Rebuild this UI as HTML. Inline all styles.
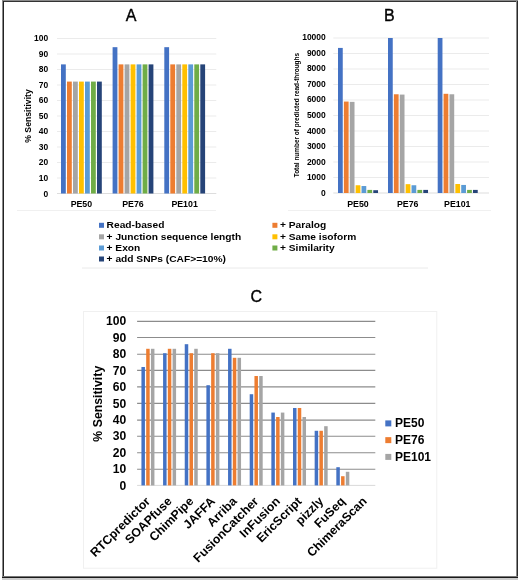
<!DOCTYPE html>
<html><head><meta charset="utf-8"><style>
html,body{margin:0;padding:0;background:#fff;width:520px;height:582px;overflow:hidden}
svg{display:block;will-change:transform}
text{font-family:"Liberation Sans",sans-serif}
</style></head><body>
<svg width="520" height="582" viewBox="0 0 520 582">
<rect width="520" height="582" fill="#fff"/>
<line x1="57" y1="193.5" x2="216.3" y2="193.5" stroke="#D9D9D9" stroke-width="0.9"/>
<text x="48.2" y="196.6" font-size="8.45" font-weight="bold" text-anchor="end" fill="#000">0</text>
<line x1="57" y1="178" x2="216.3" y2="178" stroke="#E9E9E9" stroke-width="0.9"/>
<text x="48.2" y="181.04" font-size="8.45" font-weight="bold" text-anchor="end" fill="#000">10</text>
<line x1="57" y1="162.5" x2="216.3" y2="162.5" stroke="#E9E9E9" stroke-width="0.9"/>
<text x="48.2" y="165.48" font-size="8.45" font-weight="bold" text-anchor="end" fill="#000">20</text>
<line x1="57" y1="147" x2="216.3" y2="147" stroke="#E9E9E9" stroke-width="0.9"/>
<text x="48.2" y="149.92" font-size="8.45" font-weight="bold" text-anchor="end" fill="#000">30</text>
<line x1="57" y1="131.5" x2="216.3" y2="131.5" stroke="#E9E9E9" stroke-width="0.9"/>
<text x="48.2" y="134.36" font-size="8.45" font-weight="bold" text-anchor="end" fill="#000">40</text>
<line x1="57" y1="116" x2="216.3" y2="116" stroke="#E9E9E9" stroke-width="0.9"/>
<text x="48.2" y="118.8" font-size="8.45" font-weight="bold" text-anchor="end" fill="#000">50</text>
<line x1="57" y1="100.5" x2="216.3" y2="100.5" stroke="#E9E9E9" stroke-width="0.9"/>
<text x="48.2" y="103.24" font-size="8.45" font-weight="bold" text-anchor="end" fill="#000">60</text>
<line x1="57" y1="85" x2="216.3" y2="85" stroke="#E9E9E9" stroke-width="0.9"/>
<text x="48.2" y="87.68" font-size="8.45" font-weight="bold" text-anchor="end" fill="#000">70</text>
<line x1="57" y1="69.5" x2="216.3" y2="69.5" stroke="#E9E9E9" stroke-width="0.9"/>
<text x="48.2" y="72.12" font-size="8.45" font-weight="bold" text-anchor="end" fill="#000">80</text>
<line x1="57" y1="54" x2="216.3" y2="54" stroke="#E9E9E9" stroke-width="0.9"/>
<text x="48.2" y="56.56" font-size="8.45" font-weight="bold" text-anchor="end" fill="#000">90</text>
<line x1="57" y1="38.5" x2="216.3" y2="38.5" stroke="#E9E9E9" stroke-width="0.9"/>
<text x="48.2" y="41" font-size="8.45" font-weight="bold" text-anchor="end" fill="#000">100</text>
<rect x="61" y="64.38" width="4.8" height="129.12" fill="#4472C4"/>
<rect x="67" y="81.59" width="4.8" height="111.91" fill="#ED7D31"/>
<rect x="73" y="81.59" width="4.8" height="111.91" fill="#A5A5A5"/>
<rect x="79" y="81.59" width="4.8" height="111.91" fill="#FFC000"/>
<rect x="85" y="81.59" width="4.8" height="111.91" fill="#5B9BD5"/>
<rect x="91" y="81.59" width="4.8" height="111.91" fill="#70AD47"/>
<rect x="97" y="81.59" width="4.8" height="111.91" fill="#264478"/>
<rect x="112.6" y="47.18" width="4.8" height="146.32" fill="#4472C4"/>
<rect x="118.6" y="64.38" width="4.8" height="129.12" fill="#ED7D31"/>
<rect x="124.6" y="64.38" width="4.8" height="129.12" fill="#A5A5A5"/>
<rect x="130.6" y="64.38" width="4.8" height="129.12" fill="#FFC000"/>
<rect x="136.6" y="64.38" width="4.8" height="129.12" fill="#5B9BD5"/>
<rect x="142.6" y="64.38" width="4.8" height="129.12" fill="#70AD47"/>
<rect x="148.6" y="64.38" width="4.8" height="129.12" fill="#264478"/>
<rect x="164.3" y="47.18" width="4.8" height="146.32" fill="#4472C4"/>
<rect x="170.3" y="64.38" width="4.8" height="129.12" fill="#ED7D31"/>
<rect x="176.3" y="64.38" width="4.8" height="129.12" fill="#A5A5A5"/>
<rect x="182.3" y="64.38" width="4.8" height="129.12" fill="#FFC000"/>
<rect x="188.3" y="64.38" width="4.8" height="129.12" fill="#5B9BD5"/>
<rect x="194.3" y="64.38" width="4.8" height="129.12" fill="#70AD47"/>
<rect x="200.3" y="64.38" width="4.8" height="129.12" fill="#264478"/>
<text x="81.4" y="207.2" font-size="8.8" font-weight="bold" text-anchor="middle" fill="#000">PE50</text>
<text x="133" y="207.2" font-size="8.8" font-weight="bold" text-anchor="middle" fill="#000">PE76</text>
<text x="184.6" y="207.2" font-size="8.8" font-weight="bold" text-anchor="middle" fill="#000">PE101</text>
<text x="31.1" y="116" font-size="8.7" font-weight="bold" text-anchor="middle" fill="#000" transform="rotate(-90 31.1 116)">% Sensitivity</text>
<text x="131" y="20.7" font-size="16" font-weight="normal" text-anchor="middle" fill="#000" stroke="#000" stroke-width="0.35">A</text>
<line x1="333.3" y1="193" x2="489" y2="193" stroke="#D9D9D9" stroke-width="0.9"/>
<text x="325.8" y="196" font-size="8.5" font-weight="bold" text-anchor="end" fill="#000">0</text>
<line x1="333.3" y1="177.5" x2="489" y2="177.5" stroke="#E9E9E9" stroke-width="0.9"/>
<text x="325.8" y="180.41" font-size="8.5" font-weight="bold" text-anchor="end" fill="#000">1000</text>
<line x1="333.3" y1="162" x2="489" y2="162" stroke="#E9E9E9" stroke-width="0.9"/>
<text x="325.8" y="164.82" font-size="8.5" font-weight="bold" text-anchor="end" fill="#000">2000</text>
<line x1="333.3" y1="146.5" x2="489" y2="146.5" stroke="#E9E9E9" stroke-width="0.9"/>
<text x="325.8" y="149.23" font-size="8.5" font-weight="bold" text-anchor="end" fill="#000">3000</text>
<line x1="333.3" y1="131" x2="489" y2="131" stroke="#E9E9E9" stroke-width="0.9"/>
<text x="325.8" y="133.64" font-size="8.5" font-weight="bold" text-anchor="end" fill="#000">4000</text>
<line x1="333.3" y1="115.5" x2="489" y2="115.5" stroke="#E9E9E9" stroke-width="0.9"/>
<text x="325.8" y="118.05" font-size="8.5" font-weight="bold" text-anchor="end" fill="#000">5000</text>
<line x1="333.3" y1="100" x2="489" y2="100" stroke="#E9E9E9" stroke-width="0.9"/>
<text x="325.8" y="102.46" font-size="8.5" font-weight="bold" text-anchor="end" fill="#000">6000</text>
<line x1="333.3" y1="84.5" x2="489" y2="84.5" stroke="#E9E9E9" stroke-width="0.9"/>
<text x="325.8" y="86.87" font-size="8.5" font-weight="bold" text-anchor="end" fill="#000">7000</text>
<line x1="333.3" y1="69" x2="489" y2="69" stroke="#E9E9E9" stroke-width="0.9"/>
<text x="325.8" y="71.28" font-size="8.5" font-weight="bold" text-anchor="end" fill="#000">8000</text>
<line x1="333.3" y1="53.5" x2="489" y2="53.5" stroke="#E9E9E9" stroke-width="0.9"/>
<text x="325.8" y="55.69" font-size="8.5" font-weight="bold" text-anchor="end" fill="#000">9000</text>
<line x1="333.3" y1="38" x2="489" y2="38" stroke="#E9E9E9" stroke-width="0.9"/>
<text x="325.8" y="40.1" font-size="8.5" font-weight="bold" text-anchor="end" fill="#000">10000</text>
<rect x="338" y="47.92" width="4.75" height="145.08" fill="#4472C4"/>
<rect x="343.88" y="101.55" width="4.75" height="91.45" fill="#ED7D31"/>
<rect x="349.76" y="101.86" width="4.75" height="91.14" fill="#A5A5A5"/>
<rect x="355.64" y="185.25" width="4.75" height="7.75" fill="#FFC000"/>
<rect x="361.52" y="186.03" width="4.75" height="6.97" fill="#5B9BD5"/>
<rect x="367.4" y="189.9" width="4.75" height="3.1" fill="#70AD47"/>
<rect x="373.28" y="190.21" width="4.75" height="2.79" fill="#264478"/>
<rect x="388" y="38" width="4.75" height="155" fill="#4472C4"/>
<rect x="393.88" y="94.27" width="4.75" height="98.73" fill="#ED7D31"/>
<rect x="399.76" y="94.58" width="4.75" height="98.42" fill="#A5A5A5"/>
<rect x="405.64" y="184.16" width="4.75" height="8.83" fill="#FFC000"/>
<rect x="411.52" y="185.25" width="4.75" height="7.75" fill="#5B9BD5"/>
<rect x="417.4" y="189.9" width="4.75" height="3.1" fill="#70AD47"/>
<rect x="423.28" y="189.9" width="4.75" height="3.1" fill="#264478"/>
<rect x="437.7" y="38" width="4.75" height="155" fill="#4472C4"/>
<rect x="443.58" y="93.8" width="4.75" height="99.2" fill="#ED7D31"/>
<rect x="449.46" y="94.27" width="4.75" height="98.73" fill="#A5A5A5"/>
<rect x="455.34" y="184.01" width="4.75" height="8.99" fill="#FFC000"/>
<rect x="461.22" y="184.94" width="4.75" height="8.06" fill="#5B9BD5"/>
<rect x="467.1" y="189.9" width="4.75" height="3.1" fill="#70AD47"/>
<rect x="472.98" y="189.9" width="4.75" height="3.1" fill="#264478"/>
<text x="358" y="206.8" font-size="8.8" font-weight="bold" text-anchor="middle" fill="#000">PE50</text>
<text x="407.7" y="206.8" font-size="8.8" font-weight="bold" text-anchor="middle" fill="#000">PE76</text>
<text x="457.3" y="206.8" font-size="8.8" font-weight="bold" text-anchor="middle" fill="#000">PE101</text>
<text x="299.3" y="115.1" font-size="6.45" font-weight="bold" text-anchor="middle" fill="#000" transform="rotate(-90 299.3 115.1)">Total number of predicted read-throughs</text>
<text x="389.4" y="20.7" font-size="16" font-weight="normal" text-anchor="middle" fill="#000" stroke="#000" stroke-width="0.35">B</text>
<line x1="17" y1="210.5" x2="216" y2="210.5" stroke="#F0F0F0" stroke-width="1"/>
<line x1="288" y1="210.5" x2="491" y2="210.5" stroke="#F0F0F0" stroke-width="1"/>
<line x1="82" y1="268" x2="428" y2="268" stroke="#EAEAEA" stroke-width="1"/>
<rect x="99" y="222.8" width="5" height="5" fill="#4472C4"/>
<text x="106.6" y="228.2" font-size="9.8" font-weight="bold" text-anchor="start" fill="#000" textLength="57.8" lengthAdjust="spacingAndGlyphs">Read-based</text>
<rect x="272.4" y="222.8" width="5" height="5" fill="#ED7D31"/>
<text x="280" y="228.2" font-size="9.8" font-weight="bold" text-anchor="start" fill="#000" textLength="46.2" lengthAdjust="spacingAndGlyphs">+ Paralog</text>
<rect x="99" y="234.3" width="5" height="5" fill="#A5A5A5"/>
<text x="106.6" y="239.7" font-size="9.8" font-weight="bold" text-anchor="start" fill="#000" textLength="134.6" lengthAdjust="spacingAndGlyphs">+ Junction sequence length</text>
<rect x="272.4" y="234.3" width="5" height="5" fill="#FFC000"/>
<text x="280" y="239.7" font-size="9.8" font-weight="bold" text-anchor="start" fill="#000" textLength="76.2" lengthAdjust="spacingAndGlyphs">+ Same isoform</text>
<rect x="99" y="245.5" width="5" height="5" fill="#5B9BD5"/>
<text x="106.6" y="250.9" font-size="9.8" font-weight="bold" text-anchor="start" fill="#000" textLength="33.7" lengthAdjust="spacingAndGlyphs">+ Exon</text>
<rect x="272.4" y="245.5" width="5" height="5" fill="#70AD47"/>
<text x="280" y="250.9" font-size="9.8" font-weight="bold" text-anchor="start" fill="#000" textLength="54.7" lengthAdjust="spacingAndGlyphs">+ Similarity</text>
<rect x="99" y="256.5" width="5" height="5" fill="#264478"/>
<text x="106.6" y="261.9" font-size="9.8" font-weight="bold" text-anchor="start" fill="#000" textLength="119.3" lengthAdjust="spacingAndGlyphs">+ add SNPs (CAF&gt;=10%)</text>
<rect x="83.5" y="311.5" width="353.3" height="256.7" fill="none" stroke="#F0F0F0" stroke-width="1"/>
<line x1="137.1" y1="485.4" x2="375.3" y2="485.4" stroke="#D9D9D9" stroke-width="1"/>
<text x="126.2" y="489.7" font-size="12.1" font-weight="bold" text-anchor="end" fill="#000">0</text>
<line x1="137.1" y1="469.2" x2="375.3" y2="469.2" stroke="#8C8C8C" stroke-width="1.1"/>
<text x="126.2" y="473.26" font-size="12.1" font-weight="bold" text-anchor="end" fill="#000">10</text>
<line x1="137.1" y1="452.8" x2="375.3" y2="452.8" stroke="#8C8C8C" stroke-width="1.1"/>
<text x="126.2" y="456.82" font-size="12.1" font-weight="bold" text-anchor="end" fill="#000">20</text>
<line x1="137.1" y1="436.2" x2="375.3" y2="436.2" stroke="#8C8C8C" stroke-width="1.1"/>
<text x="126.2" y="440.38" font-size="12.1" font-weight="bold" text-anchor="end" fill="#000">30</text>
<line x1="137.1" y1="420.1" x2="375.3" y2="420.1" stroke="#8C8C8C" stroke-width="1.1"/>
<text x="126.2" y="423.94" font-size="12.1" font-weight="bold" text-anchor="end" fill="#000">40</text>
<line x1="137.1" y1="403.4" x2="375.3" y2="403.4" stroke="#8C8C8C" stroke-width="1.1"/>
<text x="126.2" y="407.5" font-size="12.1" font-weight="bold" text-anchor="end" fill="#000">50</text>
<line x1="137.1" y1="386.9" x2="375.3" y2="386.9" stroke="#8C8C8C" stroke-width="1.1"/>
<text x="126.2" y="391.06" font-size="12.1" font-weight="bold" text-anchor="end" fill="#000">60</text>
<line x1="137.1" y1="370.4" x2="375.3" y2="370.4" stroke="#8C8C8C" stroke-width="1.1"/>
<text x="126.2" y="374.62" font-size="12.1" font-weight="bold" text-anchor="end" fill="#000">70</text>
<line x1="137.1" y1="354.2" x2="375.3" y2="354.2" stroke="#8C8C8C" stroke-width="1.1"/>
<text x="126.2" y="358.18" font-size="12.1" font-weight="bold" text-anchor="end" fill="#000">80</text>
<line x1="137.1" y1="337.5" x2="375.3" y2="337.5" stroke="#8C8C8C" stroke-width="1.1"/>
<text x="126.2" y="341.74" font-size="12.1" font-weight="bold" text-anchor="end" fill="#000">90</text>
<line x1="137.1" y1="321.4" x2="375.3" y2="321.4" stroke="#8C8C8C" stroke-width="1.1"/>
<text x="126.2" y="325.3" font-size="12.1" font-weight="bold" text-anchor="end" fill="#000">100</text>
<rect x="141.43" y="366.99" width="3.5" height="118.41" fill="#4472C4"/>
<rect x="146.18" y="348.79" width="3.5" height="136.61" fill="#ED7D31"/>
<rect x="150.93" y="348.79" width="3.5" height="136.61" fill="#A5A5A5"/>
<text x="150.93" y="502" font-size="12.3" font-weight="bold" text-anchor="end" fill="#000" transform="rotate(-45 150.93 502)">RTCpredictor</text>
<rect x="163.08" y="353.22" width="3.5" height="132.18" fill="#4472C4"/>
<rect x="167.83" y="348.79" width="3.5" height="136.61" fill="#ED7D31"/>
<rect x="172.58" y="348.79" width="3.5" height="136.61" fill="#A5A5A5"/>
<text x="172.58" y="502" font-size="12.3" font-weight="bold" text-anchor="end" fill="#000" transform="rotate(-45 172.58 502)">SOAPfuse</text>
<rect x="184.74" y="344.2" width="3.5" height="141.2" fill="#4472C4"/>
<rect x="189.49" y="353.22" width="3.5" height="132.18" fill="#ED7D31"/>
<rect x="194.24" y="348.79" width="3.5" height="136.61" fill="#A5A5A5"/>
<text x="194.24" y="502" font-size="12.3" font-weight="bold" text-anchor="end" fill="#000" transform="rotate(-45 194.24 502)">ChimPipe</text>
<rect x="206.39" y="385.2" width="3.5" height="100.2" fill="#4472C4"/>
<rect x="211.14" y="353.22" width="3.5" height="132.18" fill="#ED7D31"/>
<rect x="215.89" y="353.22" width="3.5" height="132.18" fill="#A5A5A5"/>
<text x="215.89" y="502" font-size="12.3" font-weight="bold" text-anchor="end" fill="#000" transform="rotate(-45 215.89 502)">JAFFA</text>
<rect x="228.05" y="348.79" width="3.5" height="136.61" fill="#4472C4"/>
<rect x="232.8" y="357.81" width="3.5" height="127.59" fill="#ED7D31"/>
<rect x="237.55" y="357.81" width="3.5" height="127.59" fill="#A5A5A5"/>
<text x="237.55" y="502" font-size="12.3" font-weight="bold" text-anchor="end" fill="#000" transform="rotate(-45 237.55 502)">Arriba</text>
<rect x="249.7" y="394.22" width="3.5" height="91.18" fill="#4472C4"/>
<rect x="254.45" y="376.01" width="3.5" height="109.39" fill="#ED7D31"/>
<rect x="259.2" y="376.01" width="3.5" height="109.39" fill="#A5A5A5"/>
<text x="259.2" y="502" font-size="12.3" font-weight="bold" text-anchor="end" fill="#000" transform="rotate(-45 259.2 502)">FusionCatcher</text>
<rect x="271.35" y="412.58" width="3.5" height="72.82" fill="#4472C4"/>
<rect x="276.1" y="417.01" width="3.5" height="68.39" fill="#ED7D31"/>
<rect x="280.85" y="412.58" width="3.5" height="72.82" fill="#A5A5A5"/>
<text x="280.85" y="502" font-size="12.3" font-weight="bold" text-anchor="end" fill="#000" transform="rotate(-45 280.85 502)">InFusion</text>
<rect x="293.01" y="407.99" width="3.5" height="77.41" fill="#4472C4"/>
<rect x="297.76" y="407.99" width="3.5" height="77.41" fill="#ED7D31"/>
<rect x="302.51" y="417.01" width="3.5" height="68.39" fill="#A5A5A5"/>
<text x="302.51" y="502" font-size="12.3" font-weight="bold" text-anchor="end" fill="#000" transform="rotate(-45 302.51 502)">EricScript</text>
<rect x="314.66" y="430.79" width="3.5" height="54.61" fill="#4472C4"/>
<rect x="319.41" y="430.79" width="3.5" height="54.61" fill="#ED7D31"/>
<rect x="324.16" y="426.2" width="3.5" height="59.2" fill="#A5A5A5"/>
<text x="324.16" y="502" font-size="12.3" font-weight="bold" text-anchor="end" fill="#000" transform="rotate(-45 324.16 502)">pizzly</text>
<rect x="336.32" y="467.2" width="3.5" height="18.2" fill="#4472C4"/>
<rect x="341.07" y="476.22" width="3.5" height="9.18" fill="#ED7D31"/>
<rect x="345.82" y="471.79" width="3.5" height="13.61" fill="#A5A5A5"/>
<text x="345.82" y="502" font-size="12.3" font-weight="bold" text-anchor="end" fill="#000" transform="rotate(-45 345.82 502)">FuSeq</text>
<text x="367.47" y="502" font-size="12.3" font-weight="bold" text-anchor="end" fill="#000" transform="rotate(-45 367.47 502)">ChimeraScan</text>
<text x="102.2" y="403.7" font-size="12.3" font-weight="bold" text-anchor="middle" fill="#000" transform="rotate(-90 102.2 403.7)">% Sensitivity</text>
<text x="256.2" y="301.9" font-size="16" font-weight="normal" text-anchor="middle" fill="#000" stroke="#000" stroke-width="0.35">C</text>
<rect x="385.3" y="420.4" width="6" height="6" fill="#4472C4"/>
<text x="395" y="427" font-size="12" font-weight="bold" text-anchor="start" fill="#000">PE50</text>
<rect x="385.3" y="437.15" width="6" height="6" fill="#ED7D31"/>
<text x="395" y="443.75" font-size="12" font-weight="bold" text-anchor="start" fill="#000">PE76</text>
<rect x="385.3" y="453.9" width="6" height="6" fill="#A5A5A5"/>
<text x="395" y="460.5" font-size="12" font-weight="bold" text-anchor="start" fill="#000">PE101</text>
<rect x="2" y="0" width="516" height="1" fill="#8a8a8a"/>
<rect x="2" y="1" width="516" height="1" fill="#333"/>
<rect x="2" y="1" width="1" height="577" fill="#8a8a8a"/>
<rect x="3" y="1" width="1" height="577" fill="#222"/>
<rect x="516" y="1" width="1" height="577" fill="#8a8a8a"/>
<rect x="517" y="1" width="1" height="577" fill="#2a2a2a"/>
<rect x="2" y="576" width="516" height="1" fill="#777"/>
<rect x="2" y="577" width="516" height="1" fill="#1a1a1a"/>
<rect x="2" y="578" width="516" height="2" fill="#cccccc"/>
</svg>
</body></html>
